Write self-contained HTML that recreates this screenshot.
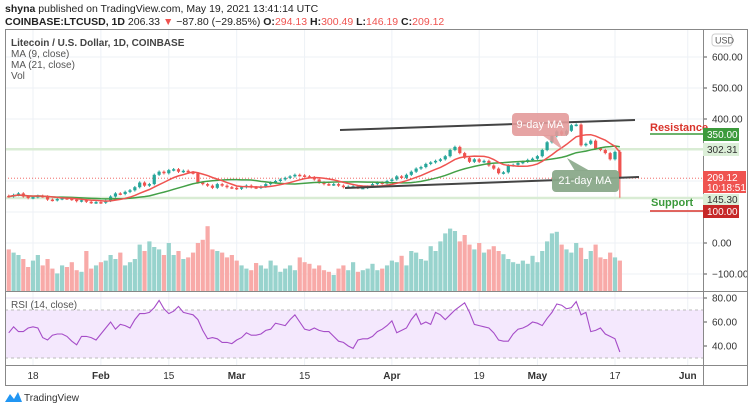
<!DOCTYPE html>
<html><head><meta charset="utf-8"><style>
body{margin:0;background:#fff;width:750px;height:411px;overflow:hidden;font-family:"Liberation Sans",sans-serif}
svg text{font-family:"Liberation Sans",sans-serif}
</style></head><body>
<svg id="c" width="750" height="411" xmlns="http://www.w3.org/2000/svg">
<text x="5" y="12" font-size="10.5" fill="#222"><tspan font-weight="bold">shyna</tspan> published on TradingView.com, May 19, 2021 13:41:14 UTC</text>
<text x="5" y="25" font-size="10.5" fill="#222" font-weight="bold">COINBASE:LTCUSD, 1D <tspan font-weight="normal">206.33 </tspan><tspan fill="#ef5350">▼</tspan><tspan font-weight="normal"> −87.80 (−29.85%) </tspan>O:<tspan fill="#ef5350" font-weight="normal">294.13</tspan> H:<tspan fill="#ef5350" font-weight="normal">300.49</tspan> L:<tspan fill="#ef5350" font-weight="normal">146.19</tspan> C:<tspan fill="#ef5350" font-weight="normal">209.12</tspan></text>
<g id="grid"></g>
<g id="bands"></g>
<g id="vol"></g>
<g id="candles"></g>
<g id="ma"></g>
<g id="over"></g>
<g id="rsi"></g>
<g id="axes"></g>
</svg>
<script>
const NS="http://www.w3.org/2000/svg";
const closes=[150,155,160,150,145,148,152,150,140,138,142,145,143,140,135,138,133,130,132,
130,136,150,160,158,165,170,180,195,185,190,220,230,225,235,238,230,233,228,225,195,190,185,178,190,185,180,178,
175,180,185,180,178,182,190,195,200,205,210,215,220,218,215,212,205,195,190,188,190,185,180,182,183,178,178,182,190,195,192,
200,205,215,210,220,230,240,245,255,260,265,270,280,300,310,290,275,262,270,262,265,250,240,225,228,250,252,258,262,268,
272,280,300,325,345,360,350,362,380,382,315,320,330,305,300,290,270,294,209];
const volumes=[52,48,45,40,30,38,45,32,40,28,22,32,30,36,26,24,50,28,32,
36,38,45,40,48,32,36,40,58,50,62,55,52,45,60,45,50,40,42,48,60,64,81,52,50,48,42,45,
38,32,28,26,35,32,28,38,32,24,28,32,26,42,36,34,28,32,26,24,20,28,32,26,36,24,26,28,34,26,28,
32,38,36,44,32,50,48,40,38,56,50,62,72,78,75,62,70,58,52,60,48,52,56,50,46,40,36,34,38,34,
44,36,50,62,72,74,58,52,48,60,54,40,50,58,42,40,48,42,38];
const rsiValues=[51,56,52,52,55,56,55,47,45,49,50,50,48,44,41,48,48,47,45,50,55,60,54,58,57,55,62,67,67,68,
72,78,71,67,69,73,68,67,66,62,53,46,47,46,43,43,42,45,47,51,49,49,50,53,54,59,58,57,62,66,
60,54,53,55,53,52,52,48,44,43,40,38,45,46,46,48,52,54,57,61,51,53,55,62,67,58,60,58,68,66,
62,66,70,73,76,68,58,57,56,55,51,45,44,44,50,54,55,57,60,59,57,63,68,75,74,71,72,77,66,68,
52,53,55,50,48,46,35];
const lastLow=146, lastHigh=300;
const xTicks=["18","Feb","15","Mar","15","Apr","19","May","17","Jun"];
const xTickDay=[0,14,28,42,56,74,92,104,120,135];
const priceTicks=[600,500,400,0,-100];
const rsiTicks=[80,60,40];
const startDay=-5;
function X(i){return 33+(i+startDay)*4.85;}
function dX(d){return 33+d*4.85;}
function Y(v){return 243-v*0.31;}
function VY(v){return 291-v*0.8;}
function RY(v){return 322-(v-60)*1.2;}
function el(tag,attrs,parent){const e=document.createElementNS(NS,tag);for(const k in attrs)e.setAttribute(k,attrs[k]);document.getElementById(parent).appendChild(e);return e;}
xTickDay.forEach(d=>{const l=el('line',{x1:dX(d),x2:dX(d),y1:30,y2:365,stroke:'#edf1f6'},'grid');});
priceTicks.concat([300,200,100]).forEach(v=>{const l=el('line',{x1:5,x2:703,y1:Y(v),y2:Y(v),stroke:'#edf1f6'},'grid');});
rsiTicks.forEach(v=>{const l=el('line',{x1:5,x2:703,y1:RY(v),y2:RY(v),stroke:'#e6dcf0'},'grid');});
[302.31,145.30].forEach(a=>{const l=el('line',{x1:5,x2:703,y1:Y(a),y2:Y(a),stroke:'#d9ecd4','stroke-width':2.5},'bands');});
{const l=el('line',{x1:5,x2:703,y1:Y(209.12),y2:Y(209.12),stroke:'#ef5350','stroke-dasharray':'1 2','stroke-width':0.8},'bands');}
for(let i=0;i<closes.length;i++){
 const o=i?closes[i-1]:closes[0]+2, c=closes[i];
 const up=c>=o, col=up?'#26a69a':'#ef5350';
 let hi=Math.max(o,c)+4, lo=Math.min(o,c)-4;
 if(i===closes.length-1){hi=lastHigh;lo=lastLow;}
 const x=X(i);
 const w=el('line',{x1:x,x2:x,y1:Y(hi),y2:Y(lo),stroke:col,'stroke-width':1},'candles');
 
 const b=el('rect',{x:x-1.6,y:Y(Math.max(o,c)),width:3.2,height:Math.max(1.5,Math.abs(Y(o)-Y(c))),fill:col},'candles');
 
 const v=el('rect',{x:x-2.1,y:VY(volumes[i]),width:4.2,height:291-VY(volumes[i]),fill:up?'#98d3cd':'#f8aaa8'},'vol');
 
}
function ma(n){return closes.map((_,i)=>{const s=closes.slice(Math.max(0,i-n+1),i+1);return s.reduce((a,b)=>a+b,0)/s.length;});}
[[21,'#43a047','ma21-line'],[9,'#ef5350','ma9-line']].forEach(m=>{const p=ma(m[0]).map((v,i)=>X(i)+','+Y(v)).join(' ');const l=el('polyline',{points:p,fill:'none',stroke:m[1],'stroke-width':1.5},'ma');});
{const r=el('rect',{x:5,y:RY(70),width:698,height:RY(30)-RY(70),fill:'#f4e8fd'},'rsi');
[70,30].forEach(v=>{const l=el('line',{x1:5,x2:703,y1:RY(v),y2:RY(v),stroke:'#bbb','stroke-dasharray':'3 3'},'rsi');});
const pts=rsiValues.map((v,i)=>X(i)+','+RY(v));
const l=el('polyline',{points:pts.join(' '),fill:'none',stroke:'#a64dc8','stroke-width':1.1},'rsi');}
xTicks.forEach((t,i)=>{const e=el('text',{x:dX(xTickDay[i]),y:379,'font-size':10,fill:'#333','text-anchor':'middle','font-weight':/[A-Z]/.test(t)?'bold':'normal'},'axes');e.textContent=t;});
priceTicks.forEach(v=>{const e=el('text',{x:712,y:Y(v)+3.5,'font-size':10,fill:'#333'},'axes');e.textContent=(v<0?'−':'')+Math.abs(v).toFixed(2);
 const t=el('line',{x1:703,x2:707,y1:Y(v),y2:Y(v),stroke:'#555'},'axes');});
rsiTicks.forEach(v=>{const e=el('text',{x:712,y:RY(v)+3.5,'font-size':10,fill:'#333'},'axes');e.textContent=v.toFixed(2);
 const t=el('line',{x1:703,x2:707,y1:RY(v),y2:RY(v),stroke:'#555'},'axes');});
</script>
<svg width="750" height="411" style="position:absolute;left:0;top:0" xmlns="http://www.w3.org/2000/svg">
<g fill="none" stroke="#888">
<rect x="5.5" y="29.5" width="742" height="356"/>
<line x1="703.5" y1="29" x2="703.5" y2="386"/>
<line x1="5" y1="291.5" x2="748" y2="291.5"/>
<line x1="5" y1="365.5" x2="748" y2="365.5"/>
</g>
<g font-size="10" fill="#555">
<text x="11" y="46" font-weight="bold" fill="#444">Litecoin / U.S. Dollar, 1D, COINBASE</text>
<text x="11" y="57">MA (9, close)</text>
<text x="11" y="68">MA (21, close)</text>
<text x="11" y="79">Vol</text>
<text x="11" y="308">RSI (14, close)</text>
</g>
<rect x="712" y="34" width="20" height="12" rx="3" fill="#fff" stroke="#ccc"/>
<text x="715" y="43.5" font-size="9" fill="#555">USD</text>
<line x1="340" y1="130" x2="635" y2="120" stroke="#444" stroke-width="2"/>
<line x1="345" y1="188" x2="639" y2="177" stroke="#444" stroke-width="2"/>
<g>
<path d="M542,135 L563,150 L555,135 Z" fill="#e39a9a" opacity="0.85"/>
<rect x="512" y="113" width="57" height="23" rx="4" fill="#e39a9a" opacity="0.9"/>
<text x="540" y="128" font-size="11" fill="#fff" text-anchor="middle">9-day MA</text>
</g>
<g>
<path d="M575,171 L567,158 L590,171 Z" fill="#8aa98a" opacity="0.9"/>
<rect x="552" y="170" width="67" height="22" rx="4" fill="#8aa98a" opacity="0.95"/>
<text x="585" y="184" font-size="11" fill="#fff" text-anchor="middle">21-day MA</text>
</g>
<text x="650" y="131" font-size="11" font-weight="bold" fill="#d9342b">Resistance</text>
<line x1="650" y1="134" x2="703" y2="134" stroke="#3c9a3c" stroke-width="1.5"/>
<text x="651" y="206" font-size="11" font-weight="bold" fill="#3c9a3c">Support</text>
<line x1="650" y1="211" x2="703" y2="211" stroke="#d9342b" stroke-width="1.5"/>
<g font-size="10">
<rect x="703" y="128" width="36" height="13" fill="#3c9a3c"/><text x="707" y="138" fill="#fff">350.00</text>
<rect x="703" y="143" width="36" height="13" fill="#dcefd8"/><text x="707" y="153" fill="#333">302.31</text>
<rect x="703" y="171" width="43" height="22" fill="#ef5350"/><text x="707" y="181" fill="#fff">209.12</text><text x="707" y="191" fill="#fff">10:18:51</text>
<rect x="703" y="194" width="36" height="11" fill="#dcefd8"/><text x="707" y="203" fill="#333">145.30</text>
<rect x="703" y="205" width="36" height="13" fill="#c62828"/><text x="707" y="215" fill="#fff">100.00</text>
</g>
<g>
<path d="M5,402 L10,394 L14,399 L18,392 L22,402 Z" fill="#2196f3"/>
<text x="24" y="401" font-size="10" fill="#333">TradingView</text>
</g>
</svg>
</body></html>
